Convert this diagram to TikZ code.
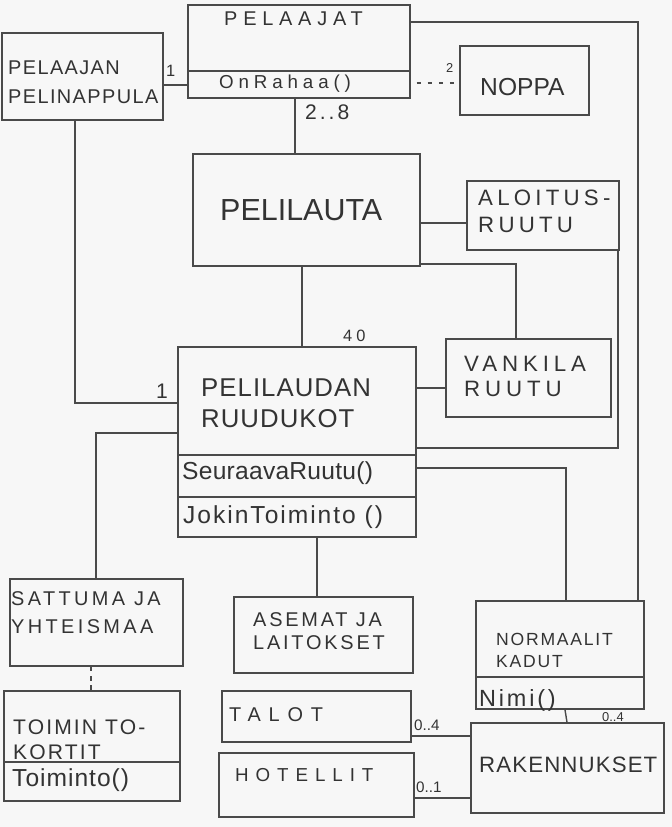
\documentclass[tikz,border=0pt]{standalone}
\usepackage{fontspec}
\setmainfont{Liberation Sans}
\usetikzlibrary{fit}

\definecolor{paper}{HTML}{F7F7F7}
\definecolor{pen}{HTML}{4A4A4A}
\definecolor{ink}{HTML}{333333}

\tikzset{
  box/.style={draw=pen, line width=1.2pt, inner sep=0pt},
  split/.style={draw=pen, line width=1.8pt},
  wire/.style={draw=pen, line width=1.2pt},
  hw/.style n args={3}{inner sep=0pt, anchor=north west, align=left, text=ink,
    font=\fontsize{#1}{#2}\selectfont\addfontfeature{LetterSpace=#3}},
  mult/.style={inner sep=0pt, anchor=north west, text=ink, font=\fontsize{#1}{#1}\selectfont}
}

\begin{document}
\begin{tikzpicture}[x=0.03cm, y=-0.03cm]
% paper
\fill[paper] (0,0) rectangle (672,827);
\useasboundingbox (0,0) rectangle (672,827);

% classes, top
\node[box, fit={(188,5) (410,98)}] (pelaajat) {};
\node[box, fit={(2,33) (163,120)}] (nappula) {};
\node[box, fit={(460,46) (589,115)}] (noppa) {};
\draw[split] (pelaajat.west |- 0,71) -- (pelaajat.east |- 0,71);

% classes, middle
\node[box, fit={(193,154) (420,266)}] (pelilauta) {};
\node[box, fit={(467,181) (619,250)}] (aloitus) {};
\node[box, fit={(446,339) (611,417)}] (vankila) {};
\node[box, fit={(178,347) (416,537)}] (ruudukot) {};
\draw[split] (ruudukot.west |- 0,455) -- (ruudukot.east |- 0,455);
\draw[split] (ruudukot.west |- 0,497) -- (ruudukot.east |- 0,497);

% classes, bottom
\node[box, fit={(10,579) (183,666)}] (sattuma) {};
\node[box, fit={(4,691) (180,801)}] (kortit) {};
\node[box, fit={(234,597) (413,673)}] (asemat) {};
\node[box, fit={(476,601) (644,709)}] (kadut) {};
\node[box, fit={(222,691) (411,742)}] (talot) {};
\node[box, fit={(219,753) (414,817)}] (hotellit) {};
\node[box, fit={(471,723) (664,813)}] (rakennukset) {};
\draw[split] (kortit.west |- 0,762) -- (kortit.east |- 0,762);
\draw[split] (kadut.west |- 0,677) -- (kadut.east |- 0,677);

% texts
\node[hw={17}{20}{29}] (t-pelaajat) at (224,12) {PELAAJAT};
\node[hw={16}{20}{26}] (t-rahaa) at (219,75) {OnRahaa()};
\node[hw={17}{24}{7}] (t-nappula) at (8,61) {PELAAJAN\\PELINAPPULA};
\node[hw={21}{24}{0}] (t-noppa) at (480,78) {NOPPA};
\node[hw={26}{30}{0}] (t-pelilauta) at (220,199) {PELILAUTA};
\node[hw={19}{23}{19}] (t-aloitus) at (478,190) {ALOITUS-\\RUUTU};
\node[hw={19}{21}{22}] (t-vankila) at (464,356) {VANKILA\\RUUTU};
\node[hw={22}{26}{4}] (t-ruudukot) at (201,379) {PELILAUDAN\\RUUDUKOT};
\node[hw={21}{24}{1}] (t-seuraava) at (182,461) {SeuraavaRuutu()};
\node[hw={21}{24}{8}] (t-jokin) at (183,505) {JokinToiminto ()};
\node[hw={17}{24}{17}] (t-sattuma) at (11,591) {SATTUMA JA\\YHTEISMAA};
\node[hw={18}{21}{10}] (t-kortit) at (13,720) {TOIMIN TO-\\KORTIT};
\node[hw={21}{24}{4}] (t-toiminto) at (12,768) {Toiminto()};
\node[hw={17}{20}{14}] (t-asemat) at (253,612) {ASEMAT JA\\LAITOKSET};
\node[hw={15}{19}{10}] (t-kadut) at (496,633) {NORMAALIT\\KADUT};
\node[hw={20}{24}{12}] (t-nimi) at (479,689) {Nimi()};
\node[hw={17}{20}{39}] (t-talot) at (229,707) {TALOT};
\node[hw={16}{20}{37}] (t-hotellit) at (235,768) {HOTELLIT};
\node[hw={19}{22}{5}] (t-rakennukset) at (479,757) {RAKENNUKSET};

% multiplicities
\node[mult=14] (m-nappula) at (166,65) {1};
\node[mult=11] (m-noppa) at (446,63) {2};
\node[hw={18}{20}{14}] (m-pelaajat) at (305,105) {2..8};
\node[hw={14}{16}{25}] (m-ruudut) at (343,330) {40};
\node[mult=18] (m-ruudukot) at (156,384) {1};
\node[mult=13] (m-talot) at (414,720) {0..4};
\node[mult=13] (m-hotellit) at (416,782) {0..1};
\node[mult=11] (m-kadut) at (602,712) {0..4};

% top connectors
\draw[wire] (nappula.east |- 0,85) -- (pelaajat.west |- 0,85);
\draw[wire, dash pattern=on 3.5pt off 6pt, shorten <=5pt] (pelaajat.east |- 0,83) -- (noppa.west |- 0,83);
\draw[wire] (pelaajat.east |- 0,22) -| (kadut.north -| 638,0);
\draw[wire] (pelaajat.south -| 295,0) -- (pelilauta.north -| 295,0);

% board connectors
\draw[wire] (pelilauta.east |- 0,223) -- (aloitus.west |- 0,223);
\draw[wire] (pelilauta.east |- 0,264) -| (vankila.north -| 516,0);
\draw[wire] (pelilauta.south -| 302,0) -- (ruudukot.north -| 302,0);
\draw[wire] (aloitus.south -| 618,0) |- (ruudukot.east |- 0,448);
\draw[wire] (ruudukot.east |- 0,388) -- (vankila.west |- 0,388);
\draw[wire] (nappula.south -| 75,0) |- (ruudukot.west |- 0,403);

% square connectors
\draw[wire] (ruudukot.west |- 0,433) -| (sattuma.north -| 96,0);
\draw[wire, dash pattern=on 4pt off 4pt] (sattuma.south -| 91,0) -- (kortit.north -| 91,0);
\draw[wire] (ruudukot.south -| 317,0) -- (asemat.north -| 317,0);
\draw[wire] (ruudukot.east |- 0,468) -| (kadut.north -| 566,0);

% buildings
\draw[wire] (kadut.south -| 565,0) -- (rakennukset.north -| 567,0);
\draw[wire] (talot.east |- 0,736) -- (rakennukset.west |- 0,736);
\draw[wire] (hotellit.east |- 0,798) -- (rakennukset.west |- 0,798);
\end{tikzpicture}
\end{document}
